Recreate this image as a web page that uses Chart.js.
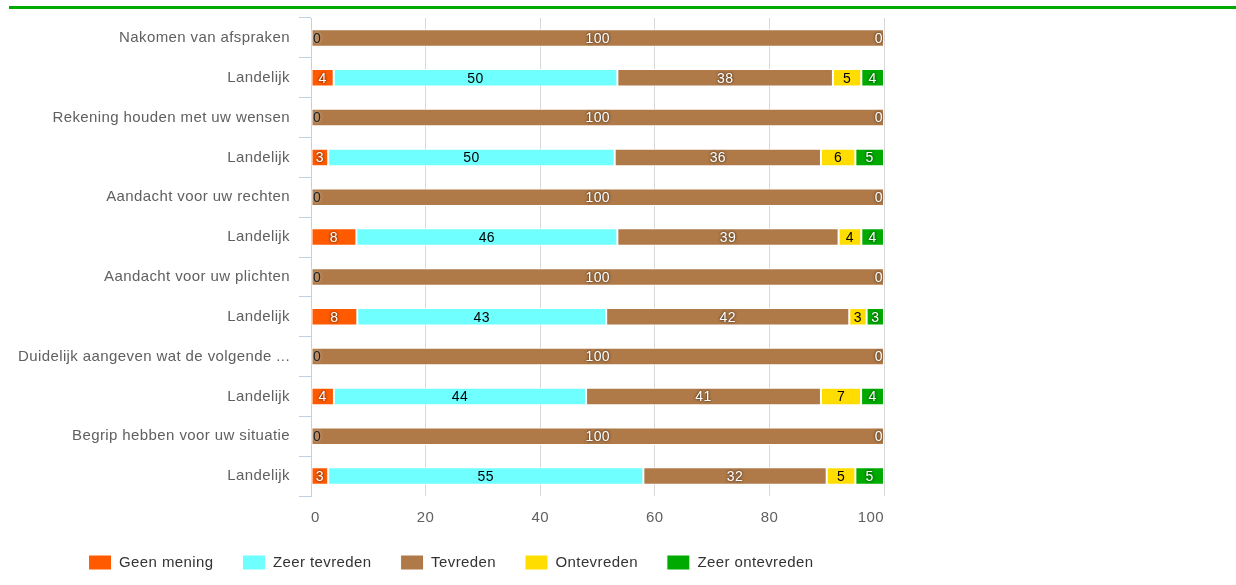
<!DOCTYPE html>
<html>
<head>
<meta charset="utf-8">
<script src="https://cdn.jsdelivr.net/npm/chart.js@4"></script>
<style>
  body { margin: 0; background: #fff; }
  #wrap { position: relative; width: 1236px; height: 585px; }
  #topline { position: absolute; left: 9px; right: 0; top: 6px; height: 3px; background: #00aa00; }
</style>
</head>
<body>
<div id="wrap">
  <div id="topline"></div>
  <canvas id="tevredenheid"></canvas>
</div>
<script>
// categories (rows, top to bottom)
const rows = [
  "Nakomen van afspraken", "Landelijk",
  "Rekening houden met uw wensen", "Landelijk",
  "Aandacht voor uw rechten", "Landelijk",
  "Aandacht voor uw plichten", "Landelijk",
  "Duidelijk aangeven wat de volgende ...", "Landelijk",
  "Begrip hebben voor uw situatie", "Landelijk"
]
const seriesNames = ["Geen mening", "Zeer tevreden", "Tevreden", "Ontevreden", "Zeer ontevreden"]

// values per series (%), as printed on the bars
const geenMening     = [0, 4, 0, 3, 0, 8, 0, 8, 0, 4, 0, 3]
const zeerTevreden   = [0, 50, 0, 50, 0, 46, 0, 43, 0, 44, 0, 55]
const tevreden       = [100, 38, 100, 36, 100, 39, 100, 42, 100, 41, 100, 32]
const ontevreden     = [0, 5, 0, 6, 0, 4, 0, 3, 0, 7, 0, 5]
const zeerOntevreden = [0, 4, 0, 5, 0, 4, 0, 3, 0, 4, 0, 5]

const xTicks = [0, 20, 40, 60, 80, 100]

const seriesValues = [geenMening, zeerTevreden, tevreden, ontevreden, zeerOntevreden]
const colors = ["#ff5a00", "#6fffff", "#b07a48", "#ffdd00", "#00aa00"]
const labelColors = ["#fff", "#000", "#fff", "#000", "#fff"]

// stacked as percentage of each row total (rounded numbers don't always add to 100)
const totals = rows.map((r, j) => seriesValues.reduce((s, arr) => s + arr[j], 0))

const datasets = seriesValues.map((vals, i) => ({
  label: seriesNames[i],
  data: vals.map((v, j) => v / totals[j] * 100),
  shown: vals,
  labelColor: labelColors[i],
  backgroundColor: colors[i],
  borderColor: "#fff",
  borderWidth: 1,
  borderSkipped: false,
  barPercentage: 0.44,
  categoryPercentage: 1
}))

// the original text is set a little wider than plain Arial
const spacing = {
  id: "spacing",
  beforeUpdate(chart) { chart.ctx.letterSpacing = "0.4px" },
  beforeLayout(chart) { chart.ctx.letterSpacing = "0.4px" },
  beforeDraw(chart) { chart.ctx.letterSpacing = "0.4px" }
}

const valueLabels = {
  id: "valueLabels",
  afterDatasetsDraw(chart) {
    const ctx = chart.ctx
    const last = chart.data.datasets.length - 1
    ctx.save()
    ctx.font = '14px "Liberation Sans", Arial, sans-serif'
    ctx.textBaseline = "middle"
    chart.data.datasets.forEach((ds, i) => {
      chart.getDatasetMeta(i).data.forEach((bar, j) => {
        const v = ds.shown[j]
        let x = (bar.x + bar.base) / 2
        let align = "center"
        let color = ds.labelColor
        if (v === 0) {
          if (i === 0) { x = bar.base + 2; align = "left"; color = "#222" }
          else if (i === last) { x = bar.x - 1; align = "right"; color = "#fff" }
          else return
        }
        ctx.textAlign = align
        ctx.fillStyle = color
        ctx.shadowColor = color === "#fff" ? "rgba(0,0,0,0.85)" : "rgba(255,255,255,0.6)"
        ctx.shadowBlur = color === "#000" ? 0 : 3
        ctx.fillText(String(v), x, bar.y + 1)
      })
    })
    ctx.restore()
  }
}

Chart.defaults.font.family = '"Liberation Sans", Arial, sans-serif'
Chart.defaults.font.size = 15

new Chart("tevredenheid", {
  type: "bar",
  data: { labels: rows, datasets: datasets },
  plugins: [spacing, valueLabels],
  options: {
    indexAxis: "y",
    responsive: true,
    maintainAspectRatio: false,
    animation: false,
    layout: { padding: { top: 16, left: 18, right: 352, bottom: 5 } },
    scales: {
      x: {
        stacked: true,
        min: 0,
        max: 100,
        afterBuildTicks: (scale) => { scale.ticks = xTicks.map(v => ({ value: v })) },
        afterFit: (scale) => { scale.height = 30 },
        ticks: { color: "#606060", padding: 13, align: "inner" },
        grid: { color: "#d8d8d8", drawTicks: false },
        border: { display: false }
      },
      y: {
        stacked: true,
        afterFit: (scale) => { scale.width = 293 },
        ticks: { color: "#606060", padding: 9 },
        grid: { drawOnChartArea: false, color: "#c0d0e0", tickLength: 12 },
        border: { color: "#c0d0e0" }
      }
    },
    plugins: {
      tooltip: { enabled: false },
      legend: {
        position: "bottom",
        labels: {
          color: "#333",
          boxWidth: 23,
          boxHeight: 15,
          padding: 29,
          font: { size: 15 }
        }
      }
    }
  }
})
</script>
</body>
</html>
